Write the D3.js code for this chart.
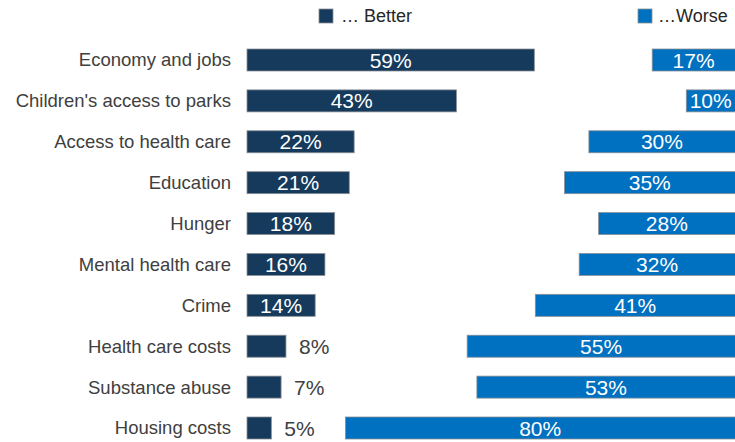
<!DOCTYPE html>
<html><head><meta charset="utf-8">
<script src="https://cdn.jsdelivr.net/npm/d3@7"></script>
<style>body{margin:0;background:#fff;}svg{display:block;font-family:"Liberation Sans",Arial,sans-serif;}</style>
</head><body>
<script>
const categories = ["Economy and jobs","Children's access to parks","Access to health care","Education","Hunger","Mental health care","Crime","Health care costs","Substance abuse","Housing costs"];
const better = [59,43,22,21,18,16,14,8,7,5];
const worse = [17,10,30,35,28,32,41,55,53,80];
const seriesNames = ["… Better","…Worse"];
const colors = ["#153a5b","#0070c0"];

const W = 735, H = 442;
const svg = d3.select("body").append("svg").attr("width", W).attr("height", H);

const x = d3.scaleLinear().domain([0,100]).range([0,487]);
const betterX0 = 247, worseX1 = 735;
const y = d3.scalePoint().domain(categories).range([60,428]);
const bh = 22;
const data = categories.map((c,i)=>({c, b:better[i], w:worse[i]}));

// category labels
svg.append("g").selectAll("text").data(data).join("text")
  .attr("x",231).attr("y",d=>y(d.c)).attr("dy","0.35em")
  .attr("text-anchor","end").attr("font-size",18.5).attr("fill","#404040")
  .text(d=>d.c);

// better bars
svg.append("g").selectAll("rect").data(data).join("rect")
  .attr("x",betterX0).attr("y",d=>y(d.c)-bh/2)
  .attr("width",d=>x(d.b)).attr("height",bh)
  .attr("fill",colors[0]).attr("stroke","#8a8f96").attr("stroke-width",0.8);

// worse bars
svg.append("g").selectAll("rect").data(data).join("rect")
  .attr("x",d=>worseX1-x(d.w)).attr("y",d=>y(d.c)-bh/2)
  .attr("width",d=>x(d.w)+2).attr("height",bh)
  .attr("fill",colors[1]).attr("stroke","#8a8f96").attr("stroke-width",0.8);

// better labels
svg.append("g").selectAll("text").data(data).join("text")
  .attr("x",d=> d.b>=10 ? betterX0 + x(d.b)/2 : betterX0 + x(d.b) + 13)
  .attr("y",d=>y(d.c)).attr("dy","0.36em")
  .attr("text-anchor",d=> d.b>=10 ? "middle":"start")
  .attr("font-size",21).attr("fill",d=> d.b>=10 ? "#fff":"#404040")
  .text(d=>d.b+"%");

// worse labels
svg.append("g").selectAll("text").data(data).join("text")
  .attr("x",d=> worseX1 - x(d.w)/2)
  .attr("y",d=>y(d.c)).attr("dy","0.36em")
  .attr("text-anchor","middle")
  .attr("font-size",21).attr("fill","#fff")
  .text(d=>d.w+"%");

// legend
const leg = [{x:319, tx:341},{x:638, tx:658}];
leg.forEach((l,i)=>{
  svg.append("rect").attr("x",l.x).attr("y",9).attr("width",14).attr("height",14)
    .attr("fill",colors[i]).attr("stroke","#8a8f96").attr("stroke-width",0.8);
  svg.append("text").attr("x",l.tx).attr("y",16).attr("dy","0.35em")
    .attr("font-size",18).attr("fill","#262626").text(seriesNames[i]);
});
</script>
</body></html>
